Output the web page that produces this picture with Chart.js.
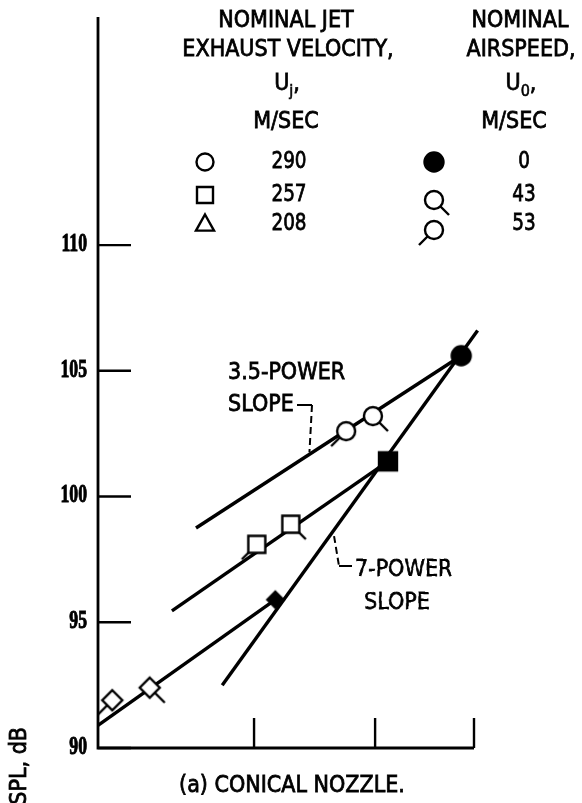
<!DOCTYPE html>
<html>
<head>
<meta charset="utf-8">
<script src="https://cdn.jsdelivr.net/npm/chart.js@4.4.0/dist/chart.umd.min.js"></script>
<style>
  html, body { margin: 0; padding: 0; background: #fff; }
  #wrap { width: 582px; height: 803px; }
</style>
</head>
<body>
<div id="wrap"><canvas id="spl" width="582" height="803"></canvas></div>
<script>
// legend values, m/sec
const jetSpeeds = [290, 257, 208];
const airSpeeds = [0, 43, 53];

// relative velocity (m/sec) and SPL (dB), one pair of arrays per airspeed
// point order follows jetSpeeds: 290, 257, 208
const relVel0 = [293, 256, 208];
const spl0 = [105.6, 101.4, 95.9];
const relVel43 = [249, 214, 165];
const spl43 = [103.2, 98.9, 92.4];
const relVel53 = [237, 201, 154];
const spl53 = [102.6, 98.1, 91.9];

// straight lines: 7-power slope and the three 3.5-power fits
const slope7X = [188.6, 302];
const slope7Y = [92.5, 106.6];
const fit290X = [179.7, 293];
const fit290Y = [98.75, 105.6];
const fit257X = [171.9, 256];
const fit257Y = [95.45, 101.4];
const fit208X = [150, 208];
const fit208Y = [90.9, 95.9];

const yTicks = [90, 95, 100, 105, 110];
const xTicks = [200, 250, 300];

const SANS = '"DejaVu Sans", sans-serif';
const SERIF = 'bold 26px "Liberation Serif", serif';

// little canvases used as point styles (open/filled shape, optional flag)
function marker(shape, filled, flag, size) {
  const s = 46, c = s / 2;
  const cv = document.createElement('canvas');
  cv.width = s; cv.height = s;
  const g = cv.getContext('2d');
  g.lineWidth = 2.4;
  g.strokeStyle = '#000';
  g.fillStyle = filled ? '#000' : '#fff';
  if (flag) {
    const d = flag === 'right' ? 1 : -1;
    g.beginPath();
    g.moveTo(c, c);
    g.lineTo(c + d * 15, c + 15);
    g.stroke();
  }
  const r = size || 9;
  g.beginPath();
  if (shape === 'circle') {
    g.arc(c, c, r, 0, Math.PI * 2);
  } else if (shape === 'square') {
    g.rect(c - r, c - r, r * 2, r * 2);
  } else if (shape === 'diamond') {
    g.moveTo(c, c - r); g.lineTo(c + r, c); g.lineTo(c, c + r); g.lineTo(c - r, c); g.closePath();
  } else if (shape === 'triangle') {
    g.moveTo(c, c - r); g.lineTo(c + r * 0.95, c + r * 0.7); g.lineTo(c - r * 0.95, c + r * 0.7); g.closePath();
  }
  g.fill();
  g.stroke();
  return cv;
}

const shapes = ['circle', 'square', 'diamond'];
const sizes = [9, 8.5, 10];
const styles0 = shapes.map((s, i) => marker(s, true, null, i === 2 ? 8 : sizes[i] + 0.5));
const styles43 = shapes.map((s, i) => marker(s, false, 'right', sizes[i]));
const styles53 = shapes.map((s, i) => marker(s, false, 'left', sizes[i]));

const pts = (xs, ys) => xs.map((v, i) => ({ x: v, y: ys[i] }));

function pointSet(label, xs, ys, st) {
  return {
    label, data: pts(xs, ys), showLine: false,
    pointStyle: st, pointRadius: 10, pointHoverRadius: 10
  };
}
function lineSet(label, xs, ys) {
  return {
    label, data: pts(xs, ys), showLine: true, pointRadius: 0,
    borderColor: '#000', borderWidth: 3.4, clip: false, tension: 0
  };
}

// value on a fitted line (log x) at a given velocity
function lineAt(xs, ys, v) {
  const t = Math.log(v / xs[0]) / Math.log(xs[1] / xs[0]);
  return ys[0] + t * (ys[1] - ys[0]);
}

function txt(ctx, s, x, y, size, opt = {}) {
  ctx.save();
  ctx.font = opt.font || (size + 'px ' + SANS);
  ctx.fillStyle = '#000';
  ctx.strokeStyle = '#000';
  ctx.lineWidth = opt.bold === undefined ? 0.8 : opt.bold;
  ctx.textBaseline = 'middle';
  ctx.textAlign = opt.align || 'center';
  ctx.translate(x, y);
  ctx.scale(opt.sx || 0.9, 1);
  ctx.fillText(s, 0, 0);
  if (ctx.lineWidth > 0) ctx.strokeText(s, 0, 0);
  ctx.restore();
}

// "U" with a subscript and trailing comma, centred on cx
function uSub(ctx, sub, cx, y) {
  ctx.save();
  const sx = 0.9;
  ctx.font = '23px ' + SANS;
  const wU = ctx.measureText('U').width * sx;
  const wC = ctx.measureText(',').width * sx;
  ctx.font = '16px ' + SANS;
  const wS = ctx.measureText(sub).width * sx;
  ctx.restore();
  const x0 = cx - (wU + wS + wC) / 2;
  txt(ctx, 'U', x0, y, 23, { align: 'left' });
  txt(ctx, sub, x0 + wU, y + 8, 16, { align: 'left', bold: 0.6 });
  txt(ctx, ',', x0 + wU + wS, y, 23, { align: 'left' });
}

const frame = {
  id: 'frame',
  beforeDatasetsDraw(chart) {
    const { ctx, chartArea: a, scales: { x, y } } = chart;
    ctx.save();
    ctx.strokeStyle = '#000';
    ctx.lineWidth = 2.8;
    ctx.beginPath();
    ctx.moveTo(a.left, a.top);
    ctx.lineTo(a.left, a.bottom);
    ctx.lineTo(a.right, a.bottom);
    ctx.stroke();
    ctx.lineWidth = 2.4;
    yTicks.forEach(v => {
      const py = y.getPixelForValue(v);
      ctx.beginPath(); ctx.moveTo(a.left, py); ctx.lineTo(a.left + 33, py); ctx.stroke();
    });
    xTicks.forEach(v => {
      const px = x.getPixelForValue(v);
      ctx.beginPath(); ctx.moveTo(px, a.bottom); ctx.lineTo(px, a.bottom - 30); ctx.stroke();
    });
    ctx.restore();
  },
  afterDraw(chart) {
    const { ctx, chartArea: a, scales: { x, y } } = chart;

    // y tick labels
    yTicks.forEach(v => {
      txt(ctx, String(v), a.left - 11, y.getPixelForValue(v) - 1, 26, { font: SERIF, align: 'right', sx: 0.68, bold: 0 });
    });

    // axis title, rotated
    ctx.save();
    ctx.translate(20, 727);
    ctx.rotate(-Math.PI / 2);
    txt(ctx, 'SPL, dB', 0, 0, 23, { align: 'right' });
    ctx.restore();

    // caption
    txt(ctx, '(a) CONICAL NOZZLE.', 292, 786, 23);

    // legend headings
    txt(ctx, 'NOMINAL JET', 286, 21, 23);
    txt(ctx, 'EXHAUST VELOCITY,', 288, 50, 23);
    uSub(ctx, 'j', 287, 84);
    txt(ctx, 'M/SEC', 286, 122, 23);
    txt(ctx, 'NOMINAL', 520, 21, 23);
    txt(ctx, 'AIRSPEED,', 521, 50, 23);
    uSub(ctx, '0', 521, 84);
    txt(ctx, 'M/SEC', 514, 122, 23);

    // legend rows
    const rowY = [162, 195, 224];
    const leftKeys = [marker('circle', false, null, 8.5), marker('square', false, null, 8), marker('triangle', false, null, 9.5)];
    const rightKeys = [styles0[0], styles43[0], styles53[0]];
    const rightDy = [0, 5, 6];
    jetSpeeds.forEach((v, i) => {
      const k = leftKeys[i];
      ctx.drawImage(k, 205 - k.width / 2, rowY[i] - k.height / 2);
      txt(ctx, String(v), 289, rowY[i], 23, { sx: 0.8 });
    });
    airSpeeds.forEach((v, i) => {
      const k = rightKeys[i];
      ctx.drawImage(k, 434 - k.width / 2, rowY[i] + rightDy[i] - k.height / 2);
      txt(ctx, String(v), 524, rowY[i], 23, { sx: 0.8 });
    });

    // slope annotations with leaders
    ctx.save();
    ctx.strokeStyle = '#000';
    ctx.lineWidth = 2;
    txt(ctx, '3.5-POWER', 228, 373, 23, { align: 'left' });
    txt(ctx, 'SLOPE', 228, 405, 23, { align: 'left' });
    const p1 = { x: x.getPixelForValue(221.5), y: y.getPixelForValue(lineAt(fit290X, fit290Y, 221.5)) };
    ctx.beginPath(); ctx.moveTo(297, 405); ctx.lineTo(312, 405); ctx.stroke();
    ctx.setLineDash([7, 4]);
    ctx.beginPath(); ctx.moveTo(312, 405); ctx.lineTo(p1.x, p1.y - 2); ctx.stroke();

    txt(ctx, '7-POWER', 355, 570, 23, { align: 'left' });
    txt(ctx, 'SLOPE', 364, 603, 23, { align: 'left' });
    const p2 = { x: x.getPixelForValue(230.5), y: y.getPixelForValue(lineAt(slope7X, slope7Y, 230.5)) };
    ctx.beginPath(); ctx.moveTo(p2.x + 3, p2.y + 2); ctx.lineTo(339, 566); ctx.stroke();
    ctx.setLineDash([]);
    ctx.beginPath(); ctx.moveTo(339, 566); ctx.lineTo(352, 566); ctx.stroke();
    ctx.restore();
  }
};

new Chart(document.getElementById('spl'), {
  type: 'scatter',
  data: {
    datasets: [
      pointSet('0 m/sec', relVel0, spl0, styles0),
      pointSet('43 m/sec', relVel43, spl43, styles43),
      pointSet('53 m/sec', relVel53, spl53, styles53),
      lineSet('7-power slope', slope7X, slope7Y),
      lineSet('290 fit', fit290X, fit290Y),
      lineSet('257 fit', fit257X, fit257Y),
      lineSet('208 fit', fit208X, fit208Y)
    ]
  },
  options: {
    responsive: false,
    animation: false,
    devicePixelRatio: 1,
    layout: { padding: { left: 98, right: 108, top: 17, bottom: 55 } },
    scales: {
      x: { type: 'logarithmic', min: 150, max: 300, display: false },
      y: { type: 'linear', min: 90, max: 119.07, display: false }
    },
    plugins: { legend: { display: false }, tooltip: { enabled: false } }
  },
  plugins: [frame]
});
</script>
</body>
</html>
